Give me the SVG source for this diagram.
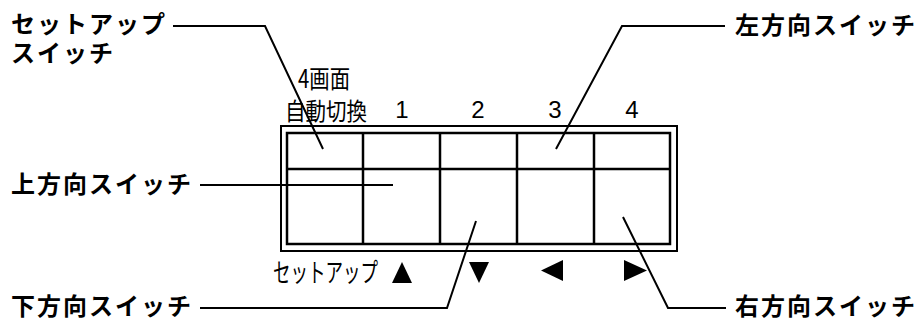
<svg xmlns="http://www.w3.org/2000/svg" width="924" height="321" viewBox="0 0 924 321">
<style>
.lbl{font-family:"Noto Sans CJK JP","Noto Sans",sans-serif;font-weight:bold;font-size:24px;letter-spacing:2px;fill:#000}
.sm{font-family:"Noto Sans CJK JP",sans-serif;font-size:24px;fill:#000}
.num{font-family:"Liberation Sans",Arial,sans-serif;font-size:24px;fill:#000;text-anchor:middle}
.ln{fill:none;stroke:#000;stroke-width:2}
.grid{fill:none;stroke:#000;stroke-width:2.5}
</style>
<rect width="924" height="321" fill="#fff"/>
<g id="panel">
<rect x="281" y="126" width="396" height="125" class="ln"/>
<rect x="287" y="133" width="383" height="111" class="grid"/>
<line x1="287" y1="169" x2="670" y2="169" class="grid"/>
<line x1="363" y1="133" x2="363" y2="244" class="grid"/>
<line x1="440" y1="133" x2="440" y2="244" class="grid"/>
<line x1="517" y1="133" x2="517" y2="244" class="grid"/>
<line x1="594" y1="133" x2="594" y2="244" class="grid"/>
</g>
<g id="top-labels">
<text x="298" y="88" class="sm" style="font-size:25px" textLength="52" lengthAdjust="spacingAndGlyphs">4画面</text>
<text x="285" y="120" class="sm" textLength="82" lengthAdjust="spacingAndGlyphs">自動切換</text>
<text x="402" y="118" class="num">1</text>
<text x="478" y="118" class="num">2</text>
<text x="555" y="118" class="num">3</text>
<text x="632" y="118" class="num">4</text>
</g>
<g id="bottom-labels">
<text x="273" y="282" class="sm" style="font-size:26px" textLength="105" lengthAdjust="spacingAndGlyphs">セットアップ</text>
<polygon points="392,283 412,283 402,262"/>
<polygon points="469,262 489,262 479,283"/>
<polygon points="563,260 563,281 541,270.5"/>
<polygon points="624,260 624,281 647,270.5"/>
</g>
<g id="setup-switch"><text x="11" y="33" class="lbl">セットアップ</text><text x="11" y="62" class="lbl">スイッチ</text></g>
<g id="left-switch"><text x="735" y="34" class="lbl">左方向スイッチ</text></g>
<g id="up-switch"><text x="11" y="193" class="lbl">上方向スイッチ</text></g>
<g id="down-switch"><text x="11" y="315" class="lbl">下方向スイッチ</text></g>
<g id="right-switch"><text x="735" y="315" class="lbl">右方向スイッチ</text></g>
<g id="connectors">
<polyline points="173,26 265,26 323,149" class="ln"/>
<polyline points="725,26 622,26 556,149" class="ln"/>
<polyline points="200,185 393,185" class="ln"/>
<polyline points="200,308 447,308 476,221" class="ln"/>
<polyline points="726,308 668,308 623,217" class="ln"/>
</g>
</svg>
